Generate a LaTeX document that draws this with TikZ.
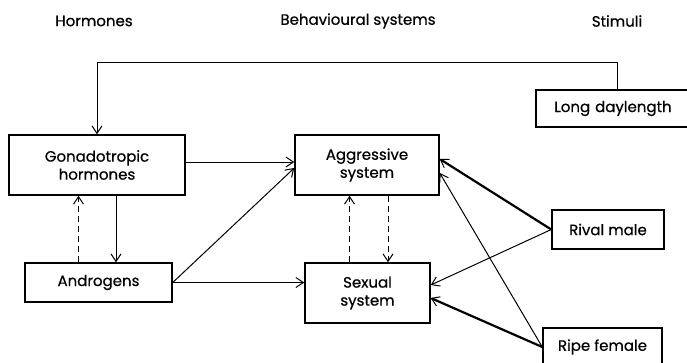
\documentclass[tikz,border=0pt]{standalone}
\usepackage{fontspec}
\setmainfont{Poppins}
\newfontfamily\medfont{Poppins}[FakeBold=0.6]
\usetikzlibrary{arrows.meta,calc}
\begin{document}
\begin{tikzpicture}[x=1pt,y=-1pt,
  box/.style={draw,line width=1.5pt,rectangle,inner sep=0pt,align=center,font=\medfont\fontsize{15}{18}\selectfont},
  hdr/.style={font=\medfont\fontsize{15}{18}\selectfont},
  tip/.style={-{Straight Barb[length=7.5pt,width=10pt,line width=1pt]}},
  thin/.style={tip,line width=1pt},
  thick/.style={tip,line width=2.2pt},
  dsh/.style={tip,line width=1pt,dash pattern=on 6pt off 4pt}]
\useasboundingbox (0,0) rectangle (687,362);
\clip (0,0) rectangle (687,362);
\node[hdr] (h1) at (94,21) {Hormones};
\node[hdr] (h2) at (358,21) {Behavioural systems};
\node[hdr] (h3) at (617,21) {Stimuli};
\node[box,minimum width=176pt,minimum height=60pt] (gon) at (97,165) {Gonadotropic\\hormones};
\node[box,minimum width=144pt,minimum height=60pt] (agg) at (367,165) {Aggressive\\system};
\node[box,minimum width=147pt,minimum height=39pt] (and) at (98.5,282.5) {Androgens};
\node[box,minimum width=125pt,minimum height=60pt] (sex) at (367.5,293) {Sexual\\system};
\node[box,minimum width=154pt,minimum height=37pt,text width=154pt] (ld) at (613,108.5) {Long daylength};
\node[box,minimum width=112pt,minimum height=39pt] (rm) at (608,229.5) {Rival male};
\node[box,minimum width=119pt,minimum height=38pt] (rf) at (602.5,347) {Ripe female};
% top feedback line
\draw[thin] ([xshift=4pt]ld.north) -- ++(0,-27) -| (gon.north);
% hormones
\draw[thin] ([yshift=3pt]gon.east) -- ([yshift=3pt]agg.west);
\draw[thin] ([xshift=19pt]gon.south) -- ([xshift=19pt]gon.south |- and.north);
\draw[dsh] ([xshift=-20pt]and.north) -- ([xshift=-20pt]and.north |- gon.south);
\draw[thin] (and.east) -- ([yshift=-3pt]agg.west);
\draw[thin] (and.east) -- (and.east -| sex.west);
% behavioural systems
\draw[dsh] ([xshift=-18pt]sex.north) -- ([xshift=-18pt]sex.north |- agg.south);
\draw[dsh] ([xshift=21pt]agg.south) -- ([xshift=21pt]agg.south |- sex.north);
% stimuli
\draw[thick] (rm.west) -- ([yshift=6pt]agg.east);
\draw[thin] (rm.west) -- ([yshift=8pt]sex.east);
\draw[thin] (rf.west) -- ([yshift=-8pt]agg.east);
\draw[thick] (rf.west) -- ([yshift=-5pt]sex.east);
\end{tikzpicture}
\end{document}
